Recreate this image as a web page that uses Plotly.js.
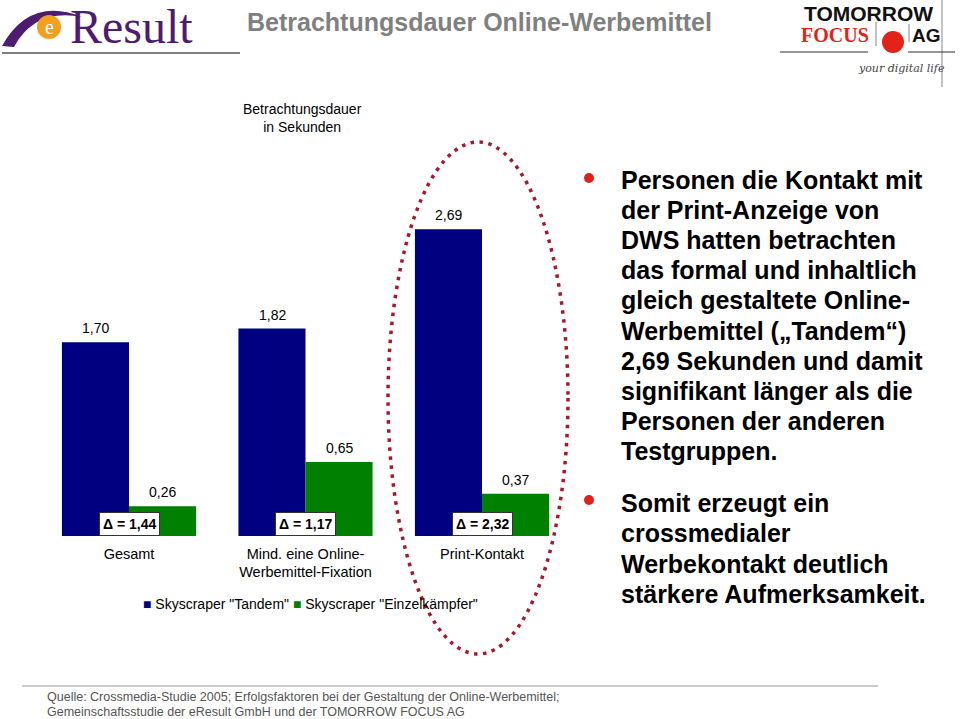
<!DOCTYPE html>
<html><head><meta charset="utf-8">
<script src="https://cdn.plot.ly/plotly-3.0.1.min.js"></script>
<style>html,body{margin:0;padding:0;background:#fff}#chart{width:960px;height:719px}</style>
</head><body><div id="chart"></div>
<script>
// ---- data ----
const categories = ["Gesamt", "Mind. eine Online-<br>Werbemittel-Fixation", "Print-Kontakt"];
const seriesNames = ['Skyscraper "Tandem"', 'Skyscraper "Einzelkämpfer"'];
const tandemValues = [1.70, 1.82, 2.69];
const einzelValues = [0.26, 0.65, 0.37];
const deltaLabels = ["1,44", "1,17", "2,32"];
const colors = ["#000080", "#008000"];
const bullet1Lines = ["Personen die Kontakt mit", "der Print-Anzeige von", "DWS hatten betrachten",
  "das formal und inhaltlich", "gleich gestaltete Online-", "Werbemittel („Tandem“)",
  "2,69 Sekunden und damit", "signifikant länger als die", "Personen der anderen", "Testgruppen."];
const bullet2Lines = ["Somit erzeugt ein", "crossmedialer", "Werbekontakt deutlich", "stärkere Aufmerksamkeit."];

const W = 960, H = 719;
const px = x => x / W;
const py = y => 1 - y / H;
const xIdx = categories.map((c, i) => i);
const fmt = v => v.toFixed(2).replace('.', ',');
const FONT = "Liberation Sans, Arial, sans-serif";

const traces = [
  {type: 'bar', x: xIdx, y: tandemValues, name: seriesNames[0], marker: {color: colors[0]}, hoverinfo: 'skip', showlegend: false},
  {type: 'bar', x: xIdx, y: einzelValues, name: seriesNames[1], marker: {color: colors[1]}, hoverinfo: 'skip', showlegend: false},
  // overlay pixel-coordinate layer for decorations
  {type: 'scatter', x: [], y: [], xaxis: 'x2', yaxis: 'y2', showlegend: false, hoverinfo: 'skip'}
];

const annotations = [];
// value labels
tandemValues.forEach((v, i) => annotations.push({x: i, y: v, xref: 'x', yref: 'y', xshift: -33.5, yshift: 14,
  text: fmt(v), showarrow: false, font: {family: FONT, size: 14, color: '#000'}}));
einzelValues.forEach((v, i) => annotations.push({x: i, y: v, xref: 'x', yref: 'y', xshift: 33.5, yshift: 14,
  text: fmt(v), showarrow: false, font: {family: FONT, size: 14, color: '#000'}}));
// delta boxes
deltaLabels.forEach((d, i) => annotations.push({x: i, y: 0.105, xref: 'x', yref: 'y',
  text: '<b>Δ = ' + d + '</b>', showarrow: false, bgcolor: '#fff', bordercolor: '#333', borderwidth: 1, borderpad: 3,
  font: {family: FONT, size: 14, color: '#000'}}));

const P = (x, y, text, font, extra) => Object.assign({x: x, y: y, xref: 'x2', yref: 'y2', text: text, showarrow: false, font: font}, extra || {});

// title
annotations.push(P(245, 22, '<b>Betrachtungsdauer Online-Werbemittel</b>', {family: FONT, size: 25, color: '#808080'}, {xanchor: 'left'}));
// axis caption
annotations.push(P(302, 118, 'Betrachtungsdauer<br>in Sekunden', {family: FONT, size: 14, color: '#000'}));
// legend
annotations.push(P(141, 604, '<span style="color:' + colors[0] + '">■</span> ' + seriesNames[0] + ' <span style="color:' + colors[1] + '">■</span> ' + seriesNames[1],
  {family: FONT, size: 14, color: '#000'}, {xanchor: 'left'}));
// right text
bullet1Lines.forEach((t, i) => annotations.push(P(619, 180 + i * 30.1, '<b>' + t + '</b>',
  {family: FONT, size: 25, color: '#000'}, {xanchor: 'left'})));
bullet2Lines.forEach((t, i) => annotations.push(P(619, 503 + i * 30.3, '<b>' + t + '</b>',
  {family: FONT, size: 25, color: '#000'}, {xanchor: 'left'})));
// footer
annotations.push(P(45, 697, 'Quelle: Crossmedia-Studie 2005; Erfolgsfaktoren bei der Gestaltung der Online-Werbemittel;',
  {family: 'Liberation Sans Narrow, Liberation Sans, sans-serif', size: 12.5, color: '#555'}, {xanchor: 'left'}));
annotations.push(P(45, 712, 'Gemeinschaftsstudie der eResult GmbH und der TOMORROW FOCUS AG',
  {family: 'Liberation Sans Narrow, Liberation Sans, sans-serif', size: 12.5, color: '#555'}, {xanchor: 'left'}));
// eResult logo text
annotations.push(P(131, 26, 'Result', {family: 'Liberation Serif, DejaVu Serif, serif', size: 48, color: '#4d1c70'}));
annotations.push(P(49, 27, 'e', {family: 'Liberation Serif, serif', size: 20, color: '#fff'}));
// Tomorrow focus logo
annotations.push(P(868, 13, '<b>TOMORROW</b>', {family: FONT, size: 21, color: '#111'}));
annotations.push(P(835, 35, '<b>FOCUS</b>', {family: 'Liberation Serif, serif', size: 20, color: '#e2231a'}));
annotations.push(P(926, 35, '<b>AG</b>', {family: FONT, size: 19, color: '#111'}));
annotations.push(P(901, 68, '<i>your digital life</i>', {family: 'DejaVu Serif, serif', size: 11, color: '#444'}));

const shapes = [
  // bullets
  {type: 'circle', xref: 'x2', yref: 'y2', x0: 584, x1: 594, y0: 173, y1: 183, fillcolor: '#e0201b', line: {width: 0}},
  {type: 'circle', xref: 'x2', yref: 'y2', x0: 584, x1: 594, y0: 495, y1: 505, fillcolor: '#e0201b', line: {width: 0}},
  // footer rule
  {type: 'line', xref: 'x2', yref: 'y2', x0: 22, x1: 878, y0: 686, y1: 686, line: {color: '#999', width: 1.2}},
  // eResult logo
  {type: 'path', xref: 'x2', yref: 'y2', path: 'M 2 46 Q 30 -4 82 17 Q 35 8 14 47 Z', fillcolor: '#4d1c70', line: {width: 0}},
  {type: 'circle', xref: 'x2', yref: 'y2', x0: 37, x1: 61, y0: 15, y1: 39, fillcolor: '#f2a01e', line: {width: 0}},
  {type: 'line', xref: 'x2', yref: 'y2', x0: 2, x1: 240, y0: 53, y1: 53, line: {color: '#555', width: 1.5}},
  // Tomorrow Focus logo
  {type: 'circle', xref: 'x2', yref: 'y2', x0: 882, x1: 904, y0: 31, y1: 53, fillcolor: '#e2231a', line: {width: 0}},
  {type: 'line', xref: 'x2', yref: 'y2', x0: 876, x1: 876, y0: 22, y1: 46, line: {color: '#888', width: 1}},
  {type: 'line', xref: 'x2', yref: 'y2', x0: 909, x1: 909, y0: 24, y1: 42, line: {color: '#888', width: 1}},
  {type: 'line', xref: 'x2', yref: 'y2', x0: 942, x1: 942, y0: 0, y1: 87, line: {color: '#888', width: 1}},
  {type: 'line', xref: 'x2', yref: 'y2', x0: 780, x1: 868, y0: 52, y1: 52, line: {color: '#333', width: 1.2}},
  {type: 'line', xref: 'x2', yref: 'y2', x0: 908, x1: 955, y0: 52, y1: 52, line: {color: '#333', width: 1.2}},
  // dotted ellipse
  {type: 'circle', xref: 'x2', yref: 'y2', x0: 388, x1: 568, y0: 142, y1: 654, layer: 'above',
   line: {color: '#a8182a', width: 3.5, dash: '3.5px,5.5px'}, fillcolor: 'rgba(0,0,0,0)'}
];

const layout = {
  width: W, height: H,
  margin: {l: 0, r: 0, t: 0, b: 0},
  paper_bgcolor: '#fff', plot_bgcolor: 'rgba(0,0,0,0)',
  barmode: 'group', bargap: 0.24, bargroupgap: 0,
  showlegend: false,
  xaxis: {domain: [px(40.75), px(570.25)], range: [-0.5, 2.5], tickvals: xIdx, ticktext: categories,
    showgrid: false, zeroline: false, showline: false, ticks: '', ticklabelstandoff: 7,
    tickfont: {family: FONT, size: 14.5, color: '#000'}, fixedrange: true},
  yaxis: {domain: [py(536), py(194)], range: [0, 3], visible: false, fixedrange: true},
  xaxis2: {domain: [0, 1], range: [0, W], visible: false, anchor: 'y2'},
  yaxis2: {domain: [0, 1], range: [H, 0], visible: false, anchor: 'x2'},
  annotations: annotations,
  shapes: shapes
};

Plotly.newPlot('chart', traces, layout, {staticPlot: true, displayModeBar: false});
</script></body></html>
